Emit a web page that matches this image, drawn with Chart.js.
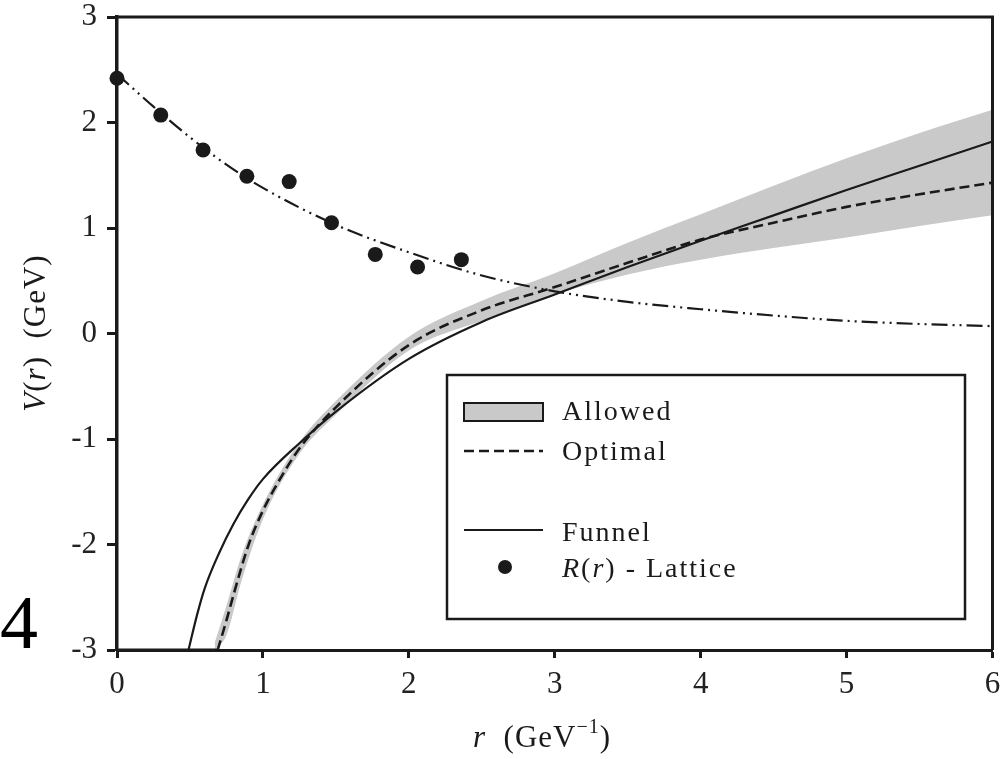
<!DOCTYPE html>
<html>
<head>
<meta charset="utf-8">
<script src="https://cdn.jsdelivr.net/npm/chart.js@4.4.0/dist/chart.umd.min.js"></script>
<style>
  body { margin: 0; background: #fff; }
  canvas { display: block; }
</style>
</head>
<body>
<canvas id="chart" width="1000" height="759"></canvas>
<script>
// Values (r in GeV^-1, V in GeV)

const latticeR = [0, 0.30, 0.59, 0.89, 1.18, 1.47, 1.77, 2.06, 2.36];
const latticeV = [2.42, 2.07, 1.74, 1.49, 1.44, 1.05, 0.75, 0.63, 0.70];

// dash-dot-dot fit through the lattice points
const fitR = [0, 0.25, 0.5, 0.75, 1, 1.5, 2, 2.5, 3, 3.5, 4, 4.5, 5, 5.5, 6];
const fitV = [2.46, 2.15, 1.86, 1.60, 1.38, 1.03, 0.77, 0.55, 0.40, 0.30, 0.23, 0.17, 0.12, 0.09, 0.07];

const funnelR = [0.49, 0.55, 0.6, 0.7, 0.8, 0.9, 1.0, 1.25, 1.5, 2, 2.5, 3, 3.5, 4, 4.5, 5, 5.5, 6];
const funnelV = [-3, -2.66, -2.42, -2.08, -1.80, -1.57, -1.38, -1.04, -0.74, -0.24, 0.11, 0.37, 0.63, 0.88, 1.12, 1.36, 1.59, 1.82];

const optimalR = [0.69, 0.75, 0.8, 0.9, 1.0, 1.1, 1.25, 1.5, 2, 2.5, 3, 3.5, 4, 4.5, 5, 5.5, 6];
const optimalV = [-3, -2.72, -2.47, -2.01, -1.68, -1.42, -1.09, -0.70, -0.11, 0.22, 0.44, 0.67, 0.89, 1.05, 1.20, 1.32, 1.43];

// both curves sit on the floor of the plot below their start
const floorR = [0, 0.69];
const floorV = [-3, -3];

// allowed band
const bandR = [0.67, 0.75, 0.85, 1, 1.25, 1.5, 2, 2.5, 3, 3.5, 4, 4.5, 5, 5.5, 6];
const bandUpper = [-2.93, -2.58, -2.12, -1.62, -1.03, -0.64, -0.03, 0.31, 0.57, 0.86, 1.13, 1.40, 1.66, 1.90, 2.12];
const bandLower = [-3.0, -2.86, -2.36, -1.76, -1.14, -0.77, -0.16, 0.12, 0.37, 0.56, 0.70, 0.81, 0.91, 1.02, 1.12];

const xTicks = [0, 1, 2, 3, 4, 5, 6];
const yTicks = [-3, -2, -1, 0, 1, 2, 3];

const ink = '#1a1a1a';
const bandGray = '#c9c9c9';
const serif = "'Liberation Serif', 'Times New Roman', serif";

const pts = (xs, ys) => xs.map((x, i) => ({ x: x, y: ys[i] }));

// draw a row of text pieces with different fonts
function drawRuns(ctx, runs, x, y) {
  let cx = x;
  runs.forEach(r => {
    ctx.font = r.font;
    ctx.fillText(r.t, cx, y + (r.dy || 0));
    cx += ctx.measureText(r.t).width;
  });
  return cx - x;
}
function runsWidth(ctx, runs) {
  let w = 0;
  runs.forEach(r => { ctx.font = r.font; w += ctx.measureText(r.t).width; });
  return w;
}

const overlay = {
  id: 'overlay',
  afterDraw(chart) {
    const ctx = chart.ctx;
    const a = chart.chartArea;
    const ds = chart.data.datasets;
    ctx.save();

    // top and right frame lines
    ctx.strokeStyle = ink;
    ctx.lineWidth = 3;
    ctx.beginPath();
    ctx.moveTo(a.left - 1, a.top);
    ctx.lineTo(a.right, a.top);
    ctx.lineTo(a.right, a.bottom);
    ctx.stroke();

    // legend box
    const bx = 447, by = 375, bw = 518, bh = 244;
    ctx.fillStyle = '#fff';
    ctx.fillRect(bx, by, bw, bh);
    ctx.lineWidth = 2.5;
    ctx.strokeRect(bx, by, bw, bh);

    const sx0 = 464, sx1 = 543, tx = 562;
    // Allowed swatch
    ctx.fillStyle = ds[0].backgroundColor;
    ctx.fillRect(sx0, 403, sx1 - sx0, 18);
    ctx.lineWidth = 2;
    ctx.strokeRect(sx0, 403, sx1 - sx0, 18);
    // Optimal dashed
    ctx.lineWidth = ds[3].borderWidth;
    ctx.setLineDash(ds[3].borderDash);
    ctx.beginPath(); ctx.moveTo(sx0, 451); ctx.lineTo(sx1, 451); ctx.stroke();
    ctx.setLineDash([]);
    // Funnel solid
    ctx.lineWidth = ds[4].borderWidth;
    ctx.beginPath(); ctx.moveTo(sx0, 530); ctx.lineTo(sx1, 530); ctx.stroke();
    // lattice dot
    ctx.fillStyle = ink;
    ctx.beginPath(); ctx.arc(505, 567, 7, 0, Math.PI * 2); ctx.fill();

    ctx.letterSpacing = '2px';
    ctx.textBaseline = 'alphabetic';
    ctx.textAlign = 'left';
    const f = '28px ' + serif, fi = 'italic 28px ' + serif;
    drawRuns(ctx, [{ t: 'Allowed', font: f }], tx, 420);
    drawRuns(ctx, [{ t: 'Optimal', font: f }], tx, 460);
    drawRuns(ctx, [{ t: 'Funnel', font: f }], tx, 541);
    drawRuns(ctx, [{ t: 'R', font: fi }, { t: '(', font: f }, { t: 'r', font: fi }, { t: ') - Lattice', font: f }], tx, 577);

    // axis titles
    const g = '31px ' + serif, gi = 'italic 31px ' + serif;
    ctx.letterSpacing = '1px';
    drawRuns(ctx, [
      { t: 'r', font: gi }, { t: '  (GeV', font: g },
      { t: '\u22121', font: '20px ' + serif, dy: -14 }, { t: ')', font: g }
    ], 473, 747);

    const yRuns = [{ t: 'V', font: gi }, { t: '(', font: g }, { t: 'r', font: gi }, { t: ')  (GeV)', font: g }];
    ctx.translate(45, 333);
    ctx.rotate(-Math.PI / 2);
    drawRuns(ctx, yRuns, -runsWidth(ctx, yRuns) / 2, 0);
    ctx.setTransform(1, 0, 0, 1, 0, 0);

    // stray panel number at the left margin
    ctx.letterSpacing = '0px';
    ctx.font = '76px ' + serif;
    ctx.fillStyle = '#000';
    ctx.fillText('4', 0, 648);
    ctx.restore();
  }
};

const tickFont = { family: serif, size: 31 };

new Chart(document.getElementById('chart'), {
  type: 'line',
  data: {
    datasets: [
      {
        label: 'Allowed',
        data: pts(bandR, bandUpper),
        borderWidth: 0,
        pointRadius: 0,
        backgroundColor: bandGray,
        fill: '+1',
        order: 10,
        cubicInterpolationMode: 'monotone'
      },
      {
        label: 'Allowed (lower)',
        data: pts(bandR, bandLower),
        borderWidth: 0,
        pointRadius: 0,
        fill: false,
        order: 10,
        cubicInterpolationMode: 'monotone'
      },
      {
        label: 'Lattice fit',
        data: pts(fitR, fitV),
        borderColor: ink,
        borderWidth: 2.2,
        borderDash: [16, 5, 2, 5, 2, 5],
        pointRadius: 0,
        fill: false,
        order: 2,
        cubicInterpolationMode: 'monotone'
      },
      {
        label: 'Optimal',
        data: pts(optimalR, optimalV),
        borderColor: ink,
        borderWidth: 2.6,
        borderDash: [10, 5],
        pointRadius: 0,
        fill: false,
        clip: 4,
        order: 1,
        cubicInterpolationMode: 'monotone'
      },
      {
        label: 'Funnel',
        data: pts(funnelR, funnelV),
        borderColor: ink,
        borderWidth: 2.2,
        pointRadius: 0,
        fill: false,
        clip: 4,
        order: 1,
        cubicInterpolationMode: 'monotone'
      },
      {
        label: 'R(r) - Lattice',
        data: pts(latticeR, latticeV),
        showLine: false,
        pointRadius: 7.5,
        pointBackgroundColor: ink,
        pointBorderWidth: 0,
        order: 0,
        clip: 10
      },
      {
        label: 'floor',
        data: pts(floorR, floorV),
        borderColor: ink,
        borderWidth: 3,
        pointRadius: 0,
        fill: false,
        clip: 4,
        order: 1
      }
    ]
  },
  options: {
    responsive: false,
    animation: false,
    layout: { padding: { top: 17, right: 5, left: 0, bottom: 0 } },
    plugins: { legend: { display: false }, tooltip: { enabled: false } },
    scales: {
      x: {
        type: 'linear',
        min: 0,
        max: 6,
        afterBuildTicks: s => { s.ticks = xTicks.map(v => ({ value: v })); },
        afterFit: s => { s.height = 109; s.paddingLeft = 0; s.paddingRight = 0; },
        ticks: { font: tickFont, color: '#222', padding: 8, maxRotation: 0 },
        grid: { drawOnChartArea: false, drawTicks: true, tickLength: 8, tickWidth: 3, tickColor: ink },
        border: { display: true, width: 3, color: ink }
      },
      y: {
        min: -3,
        max: 3,
        afterBuildTicks: s => { s.ticks = yTicks.map(v => ({ value: v })); },
        afterFit: s => { s.width = 117; s.paddingTop = 0; s.paddingBottom = 0; },
        ticks: { font: tickFont, color: '#222', padding: 10 },
        grid: { drawOnChartArea: false, drawTicks: true, tickLength: 10, tickWidth: 3, tickColor: ink },
        border: { display: true, width: 3.5, color: ink }
      }
    }
  },
  plugins: [overlay]
});
</script>
</body>
</html>
